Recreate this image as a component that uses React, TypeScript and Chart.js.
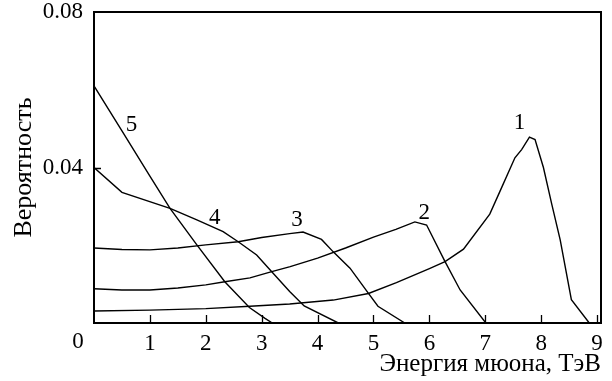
import { useEffect, useRef } from 'react';
import { Chart, registerables } from 'chart.js';

Chart.register(...registerables);

// Energy (TeV) and probability values of each curve
const energy1 = [0, 1, 2, 2.79, 3.5, 4.28, 4.91, 5.41, 6.0, 6.28, 6.61, 7.08, 7.26, 7.53, 7.65, 7.79, 7.89, 8.04, 8.19, 8.34, 8.54, 8.86];
const prob1 = [0.0031, 0.0033, 0.0037, 0.0043, 0.0049, 0.0059, 0.0076, 0.0104, 0.014, 0.0158, 0.019, 0.028, 0.0338, 0.0425, 0.0446, 0.0478, 0.0472, 0.04, 0.0305, 0.0214, 0.006, 0];

const energy2 = [0, 0.5, 1, 1.5, 2, 2.34, 2.79, 3.18, 3.51, 4, 4.5, 5.0, 5.4, 5.74, 5.95, 6.28, 6.55, 7.01];
const prob2 = [0.0088, 0.0085, 0.0085, 0.009, 0.0098, 0.0106, 0.0116, 0.0132, 0.0145, 0.0167, 0.0193, 0.0221, 0.0241, 0.026, 0.0252, 0.0158, 0.0085, 0];

const energy3 = [0, 0.5, 1, 1.5, 2, 2.58, 3, 3.5, 3.74, 4.07, 4.28, 4.58, 4.91, 5.08, 5.56];
const prob3 = [0.0193, 0.0189, 0.0188, 0.0193, 0.0201, 0.0209, 0.022, 0.023, 0.0234, 0.0215, 0.0183, 0.0141, 0.0076, 0.0043, 0];

const energy4 = [0, 0.5, 1.36, 1.84, 2.31, 2.58, 2.91, 3.18, 3.5, 3.76, 4.37];
const prob4 = [0.04, 0.0336, 0.0295, 0.0265, 0.0235, 0.0209, 0.0175, 0.0132, 0.0081, 0.0044, 0];

const energy5 = [0, 0.5, 1.0, 1.36, 1.84, 2.34, 2.78, 3.06, 3.19];
const prob5 = [0.061, 0.0494, 0.0378, 0.0295, 0.0201, 0.0106, 0.004, 0.0012, 0];

const curveNames = ['1', '2', '3', '4', '5'];
const curveLabelEnergy = [7.61, 5.91, 3.63, 2.16, 0.67];
const curveLabelProb = [0.0514, 0.0283, 0.0265, 0.027, 0.0509];

const xTickValues = [0, 1, 2, 3, 4, 5, 6, 7, 8, 9];
const yTickValues = [0.04, 0.08];
const originLabel = '0';

const xTitle = 'Энергия мюона, ТэВ';
const yTitle = 'Вероятность';

const FONT = "'Liberation Serif', serif";
const TICK_SIZE = 23;

function toPoints(xs: number[], ys: number[]) {
  return xs.map((x, i) => ({ x, y: ys[i] }));
}

const decorPlugin = {
  id: 'decor',
  afterDraw(chart: any) {
    const { ctx, chartArea, scales } = chart;
    const xs = scales.x;
    const ys = scales.y;
    ctx.save();
    ctx.strokeStyle = '#000';
    ctx.lineWidth = 2;
    ctx.strokeRect(chartArea.left, chartArea.top, chartArea.right - chartArea.left, chartArea.bottom - chartArea.top);
    ctx.lineWidth = 1.3;
    ctx.beginPath();
    xTickValues.forEach((v) => {
      if (v === 0) return;
      const px = Math.round(xs.getPixelForValue(v)) + 0.5;
      if (px >= chartArea.right - 2) return;
      ctx.moveTo(px, chartArea.bottom);
      ctx.lineTo(px, chartArea.bottom - 8);
    });
    yTickValues.forEach((v) => {
      const py = Math.round(ys.getPixelForValue(v)) + 0.5;
      if (py <= chartArea.top + 2) return;
      ctx.moveTo(chartArea.left, py);
      ctx.lineTo(chartArea.left + 7, py);
    });
    ctx.stroke();
    ctx.fillStyle = '#000';
    ctx.font = `${TICK_SIZE}px ${FONT}`;
    ctx.textAlign = 'center';
    ctx.textBaseline = 'middle';
    ctx.fillText(originLabel, chartArea.left - 16, chartArea.bottom + 19);
    curveNames.forEach((name, i) => {
      ctx.fillText(name, xs.getPixelForValue(curveLabelEnergy[i]), ys.getPixelForValue(curveLabelProb[i]));
    });
    ctx.restore();
  },
};

export default function App() {
  const canvasRef = useRef<HTMLCanvasElement | null>(null);

  useEffect(() => {
    document.body.style.margin = '0';
    const canvas = canvasRef.current;
    if (!canvas) return;
    const series = [
      toPoints(energy1, prob1),
      toPoints(energy2, prob2),
      toPoints(energy3, prob3),
      toPoints(energy4, prob4),
      toPoints(energy5, prob5),
    ];
    const chart = new Chart(canvas, {
      type: 'scatter',
      data: {
        datasets: series.map((data, i) => ({
          label: curveNames[i],
          data,
          showLine: true,
          borderColor: '#000',
          borderWidth: 1.4,
          pointRadius: 0,
          tension: 0,
          fill: false,
        })),
      },
      options: {
        responsive: false,
        animation: false,
        devicePixelRatio: 1,
        layout: { padding: 0 },
        plugins: {
          legend: { display: false },
          tooltip: { enabled: false },
        },
        scales: {
          x: {
            type: 'linear',
            min: 0,
            max: 9.07,
            afterBuildTicks: (s: any) => {
              s.ticks = xTickValues.map((v) => ({ value: v }));
            },
            afterFit: (s: any) => {
              s.height = 58;
              s.paddingLeft = 0;
              s.paddingRight = 11;
            },
            grid: { display: false, drawTicks: false },
            border: { display: false },
            ticks: {
              color: '#000',
              font: { family: FONT, size: TICK_SIZE },
              padding: 7,
              maxRotation: 0,
              autoSkip: false,
              callback: (v: any) => (v === 0 ? '' : String(v)),
            },
            title: {
              display: true,
              text: xTitle,
              align: 'end',
              color: '#000',
              font: { family: FONT, size: 25, lineHeight: 1.3 },
              padding: { top: 0, bottom: 0 },
            },
          },
          y: {
            type: 'linear',
            min: 0,
            max: 0.08,
            afterBuildTicks: (s: any) => {
              s.ticks = yTickValues.map((v) => ({ value: v }));
            },
            afterFit: (s: any) => {
              s.width = 94;
              s.paddingTop = 12;
              s.paddingBottom = 0;
            },
            grid: { display: false, drawTicks: false },
            border: { display: false },
            ticks: {
              color: '#000',
              font: { family: FONT, size: TICK_SIZE },
              padding: 11,
              callback: (v: any) => Number(v).toFixed(2),
            },
            title: {
              display: true,
              text: yTitle,
              color: '#000',
              font: { family: FONT, size: 26 },
              padding: { top: 9, bottom: 0 },
            },
          },
        },
      },
      plugins: [decorPlugin],
    });
    return () => chart.destroy();
  }, []);

  return (
    <div style={{ position: 'fixed', left: 0, top: 0, width: 612, height: 381, background: '#fff' }}>
      <canvas ref={canvasRef} width={612} height={381} />
    </div>
  );
}
